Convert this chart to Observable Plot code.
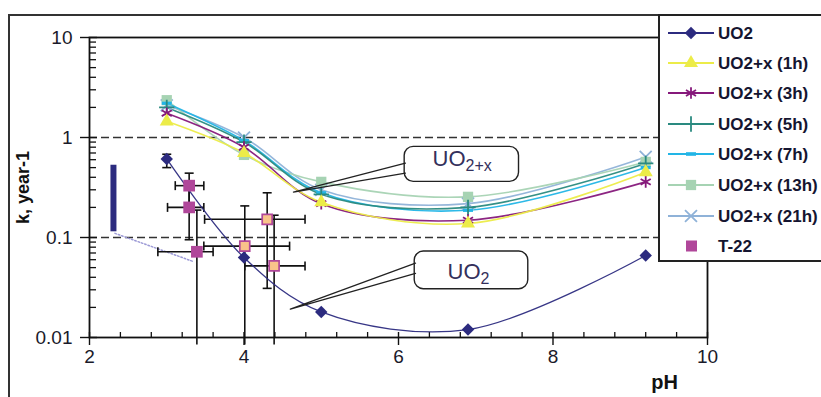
<!DOCTYPE html>
<html><head><meta charset="utf-8">
<script src="https://cdn.jsdelivr.net/npm/d3@7"></script>
<script src="https://cdn.jsdelivr.net/npm/@observablehq/plot@0.6"></script>
<style>
body{margin:0;background:#fff;font-family:"Liberation Sans",Arial,sans-serif;}
#wrap{position:relative;width:821px;height:397px;overflow:hidden;background:#fff;}
#outer{position:absolute;left:8px;top:14px;width:900px;height:500px;border-left:2px solid #333;border-top:2px solid #333;}
#wrap svg.main{position:absolute;left:0;top:0;}
#legend{position:absolute;left:658px;top:14px;width:200px;height:244px;background:#fff;border:2px solid #222;}
</style></head><body>
<div id="wrap"><div id="outer"></div></div>
<script>
// ---------- data ----------
const pH = [3, 4, 5, 6.9, 9.2];
const kUO2   = [0.61, 0.063, 0.018, 0.012, 0.066];
const k1h    = [1.45, 0.70, 0.225, 0.138, 0.45];
const k3h    = [1.75, 0.80, 0.218, 0.149, 0.36];
const k5h    = [2.0, 0.90, 0.27, 0.20, 0.55];
const k7h    = [2.2, 0.93, 0.28, 0.187, 0.50];
const k13h   = [2.36, 0.67, 0.36, 0.255, 0.57];
const k21h   = [2.1, 1.0, 0.30, 0.218, 0.64];
const seriesNames = ["UO2","UO2+x (1h)","UO2+x (3h)","UO2+x (5h)","UO2+x (7h)","UO2+x (13h)","UO2+x (21h)","T-22"];
const seriesColors = ["#2c2b7f","#ecec48","#86197b","#2a8a80","#22b5e6","#a6d3b3","#8fb2d8","#b0479a"];

// UO2 error bar at pH 3
const uo2ErrPH = [3], uo2ErrLo = [0.50], uo2ErrHi = [0.68];

// T-22 data
const tPH   = [3.29, 3.29, 3.39, 4.01, 4.30, 4.39];
const tK    = [0.33, 0.20, 0.072, 0.082, 0.152, 0.052];
const tPHlo = [3.11, 3.01, 2.885, 3.48, 3.49, 4.01];
const tPHhi = [3.48, 3.48, 3.60, 4.59, 4.79, 4.79];
const tKlo  = [0.22, 0.095, 0.0085, 0.0085, 0.031, 0.0085];
const tKhi  = [0.44, 0.33, 0.188, 0.207, 0.28, 0.167];
const tType = ["dark","dark","dark","light","light","light"];

// range bar at left and dotted connection
const barPH = [2.31], barLo = [0.114], barHi = [0.528];
const dotPH = [2.33, 3.33], dotK = [0.11, 0.058];

// reference dashed lines
const refK = [1, 0.1];

// callouts
const boxX1 = [6.08, 6.21], boxX2 = [7.56, 7.68], boxY1 = [0.36, 0.0304], boxY2 = [0.806, 0.0724];
const ptrPH = [6.09, 4.64, 6.09, 6.22, 4.60, 6.22];
const ptrK  = [0.553, 0.284, 0.44, 0.0553, 0.0192, 0.0437];
const ptrId = ["a","a","a","b","b","b"];
const labMainPH = [6.868, 7.062], labMainK = [0.617, 0.0455], labMain = ["UO","UO"];
const labSubPH = [6.868, 7.062], labSubK = [0.519, 0.039], labSub = ["2+x","2"];

// ticks
const yMajor = [0.01, 0.1, 1, 10];
const yMinor = [0.02,0.03,0.04,0.05,0.06,0.07,0.08,0.09,0.2,0.3,0.4,0.5,0.6,0.7,0.8,0.9,2,3,4,5,6,7,8,9];
const xMajor = [2, 4, 6, 8, 10];
const xMinor = [2.4,2.8,3.2,3.6,4.4,4.8,5.2,5.6,6.4,6.8,7.2,7.6,8.4,8.8,9.2,9.6];

// ---------- build tables ----------
const allK = [kUO2,k1h,k3h,k5h,k7h,k13h,k21h];
const lines = [];
allK.forEach((arr, s) => arr.forEach((k, i) => lines.push({s: seriesNames[s], c: seriesColors[s], pH: pH[i], k})));
const T = tPH.map((p, i) => ({pH: p, k: tK[i], lo: tPHlo[i], hi: tPHhi[i], klo: tKlo[i], khi: tKhi[i], type: tType[i]}));
const uErr = uo2ErrPH.map((p, i) => ({pH: p, lo: uo2ErrLo[i], hi: uo2ErrHi[i]}));
const boxes = boxX1.map((x, i) => ({x1: x, x2: boxX2[i], y1: boxY1[i], y2: boxY2[i]}));
const ptr = ptrPH.map((p, i) => ({pH: p, k: ptrK[i], id: ptrId[i]}));
const labs = labMain.map((t, i) => ({t, pH: labMainPH[i], k: labMainK[i], st: labSub[i], spH: labSubPH[i], sk: labSubK[i]}));
const dotted = dotPH.map((p, i) => ({pH: p, k: dotK[i]}));
const bars = barPH.map((p, i) => ({pH: p, lo: barLo[i], hi: barHi[i]}));

const hcap = {draw(ctx){ ctx.moveTo(-4.5,0); ctx.lineTo(4.5,0); }};
const vcap = {draw(ctx){ ctx.moveTo(0,-4.5); ctx.lineTo(0,4.5); }};
const dash = {draw(ctx){ ctx.rect(-5,-1.6,10,3.2); }};

const sym = {
  "UO2": {symbol: "diamond2", fill: true, r: 5.6},
  "UO2+x (1h)": {symbol: "triangle", fill: true, r: 5.2},
  "UO2+x (3h)": {symbol: "asterisk", fill: false, r: 5.5},
  "UO2+x (5h)": {symbol: "plus", fill: false, r: 5},
  "UO2+x (7h)": {symbol: dash, fill: true, r: 4},
  "UO2+x (13h)": {symbol: "square", fill: true, r: 5.8},
  "UO2+x (21h)": {symbol: "times", fill: false, r: 5.5}
};

const FW = 821 - 89 - 114, FH = 397 - 37 - 60;
const tickFont = 19;

const marks = [
  Plot.ruleY(refK, {stroke: "#333", strokeWidth: 1.6, strokeDasharray: "8,4"}),
  Plot.frame({stroke: "#111", strokeWidth: 1.8}),
  // y axis
  Plot.tickY(yMajor, {y: d => d, insetRight: FW - 8, insetLeft: -9, stroke: "#111", strokeWidth: 1.4}),
  Plot.tickY(yMinor, {y: d => d, insetRight: FW - 7, stroke: "#111", strokeWidth: 1.3}),
  Plot.text(yMajor, {y: d => d, text: d => String(d), frameAnchor: "left", dx: -17, textAnchor: "end", fontSize: tickFont, fill: "#1a1a2a"}),
  // x axis
  Plot.tickX(xMajor, {x: d => d, insetTop: FH - 5, insetBottom: -8, stroke: "#111", strokeWidth: 1.4}),
  Plot.tickX(xMinor, {x: d => d, insetTop: FH - 5, stroke: "#111", strokeWidth: 1.3}),
  Plot.text(xMajor, {x: d => d, text: d => String(d), frameAnchor: "bottom", dy: 25, fontSize: tickFont, fill: "#1a1a2a"}),
  // left range bar and dotted link
  Plot.ruleX(bars, {x: "pH", y1: "lo", y2: "hi", stroke: "#2c2b7f", strokeWidth: 6}),
  Plot.line(dotted, {x: "pH", y: "k", stroke: "#9c9ad6", strokeWidth: 1.5, strokeDasharray: "1.5,2"}),
  // T-22 error bars
  Plot.link(T, {x1: "lo", x2: "hi", y1: "k", y2: "k", stroke: "#111", strokeWidth: 1.6}),
  Plot.link(T, {x1: "pH", x2: "pH", y1: "klo", y2: "khi", stroke: "#111", strokeWidth: 1.6}),
  Plot.dot(T, {x: "lo", y: "k", symbol: vcap, stroke: "#111", strokeWidth: 1.6}),
  Plot.dot(T, {x: "hi", y: "k", symbol: vcap, stroke: "#111", strokeWidth: 1.6}),
  Plot.dot(T.filter(d => d.klo > 0.01), {x: "pH", y: "klo", symbol: hcap, stroke: "#111", strokeWidth: 1.6}),
  Plot.dot(T, {x: "pH", y: "khi", symbol: hcap, stroke: "#111", strokeWidth: 1.6}),
  // UO2 error bar
  Plot.link(uErr, {x1: "pH", x2: "pH", y1: "lo", y2: "hi", stroke: "#111", strokeWidth: 1.6}),
  Plot.dot(uErr, {x: "pH", y: "lo", symbol: hcap, stroke: "#111", strokeWidth: 1.6}),
  Plot.dot(uErr, {x: "pH", y: "hi", symbol: hcap, stroke: "#111", strokeWidth: 1.6}),
  // series lines (back to front)
  ...seriesNames.slice(0, 7).slice().reverse().map(name =>
    Plot.line(lines.filter(d => d.s === name), {x: "pH", y: "k", stroke: seriesColors[seriesNames.indexOf(name)], strokeWidth: name === "UO2" ? 1.3 : 1.6, curve: "catmull-rom", strokeOpacity: 0.95})
  ),
  // series markers
  ...seriesNames.slice(0, 7).slice().reverse().map(name => {
    const m = sym[name];
    const c = seriesColors[seriesNames.indexOf(name)];
    return Plot.dot(lines.filter(d => d.s === name), m.fill
      ? {x: "pH", y: "k", symbol: m.symbol, r: m.r, fill: c, stroke: "none"}
      : {x: "pH", y: "k", symbol: m.symbol, r: m.r, stroke: c, strokeWidth: 1.8});
  }),
  // T-22 markers
  Plot.dot(T.filter(d => d.type === "dark"), {x: "pH", y: "k", symbol: "square", r: 6.6, fill: "#b0479a", stroke: "none"}),
  Plot.dot(T.filter(d => d.type === "light"), {x: "pH", y: "k", symbol: "square", r: 5.6, fill: "#f9c38a", stroke: "#b0479a", strokeWidth: 1.7}),
  // callouts
  Plot.rect(boxes, {x1: "x1", x2: "x2", y1: "y1", y2: "y2", rx: 9, fill: "white", stroke: "#222", strokeWidth: 1.4}),
  Plot.line(ptr, {x: "pH", y: "k", z: "id", stroke: "#222", strokeWidth: 1.3}),
  Plot.text(labs, {x: "pH", y: "k", text: "t", textAnchor: "end", fontSize: 22, fill: "#34305c"}),
  Plot.text(labs, {x: "spH", y: "sk", text: "st", textAnchor: "start", fontSize: 16, fill: "#34305c"}),
  // axis titles
  Plot.text(["k, year-1"], {frameAnchor: "left", dx: -66, rotate: -90, textAnchor: "middle", fontSize: 18, fontWeight: "bold", fill: "#111"}),
  Plot.text(["pH"], {frameAnchor: "bottom-right", dx: -43, dy: 51, textAnchor: "middle", fontSize: 20, fontWeight: "bold", fill: "#111"})
];

const chart = Plot.plot({
  width: 821, height: 397,
  marginLeft: 89, marginRight: 114, marginTop: 37, marginBottom: 60,
  x: {domain: [2, 10], axis: null},
  y: {type: "log", domain: [0.01, 10], axis: null},
  style: {background: "transparent", fontFamily: "'Liberation Sans', Arial, sans-serif", color: "#111", overflow: "visible"},
  marks
});
chart.classList.add("main");
const wrap = document.getElementById("wrap");
wrap.appendChild(chart);

// ---------- legend ----------
const leg = document.createElement("div");
leg.id = "legend";
wrap.appendChild(leg);
const ls = d3.select(leg).append("svg").attr("width", 200).attr("height", 244);
const rowY = [17, 47, 77, 108, 138, 169, 200, 230];
seriesNames.forEach((name, i) => {
  const g = ls.append("g").attr("transform", `translate(0,${rowY[i]})`);
  const c = seriesColors[i];
  if (name !== "T-22") {
    g.append("line").attr("x1", 8).attr("x2", 54).attr("stroke", c).attr("stroke-width", 2);
    const m = sym[name];
    let typ = null;
    if (m.symbol === "diamond2") typ = d3.symbolDiamond2;
    else if (m.symbol === "triangle") typ = d3.symbolTriangle;
    else if (m.symbol === "asterisk") typ = d3.symbolAsterisk;
    else if (m.symbol === "plus") typ = d3.symbolPlus;
    else if (m.symbol === "square") typ = d3.symbolSquare;
    else if (m.symbol === "times") typ = d3.symbolTimes;
    const tx = "translate(31,0)";
    if (typ) {
      const p = g.append("path").attr("transform", tx).attr("d", d3.symbol(typ, Math.PI * m.r * m.r)());
      if (m.fill) p.attr("fill", c); else p.attr("fill", "none").attr("stroke", c).attr("stroke-width", 1.8);
    } else {
      g.append("rect").attr("x", 26).attr("y", -1.8).attr("width", 10).attr("height", 3.6).attr("fill", c);
    }
  } else {
    g.append("rect").attr("x", 26).attr("y", -5.5).attr("width", 11).attr("height", 11).attr("fill", c);
  }
  g.append("text").attr("x", 58).attr("y", 0).attr("dy", "0.35em")
    .attr("font-family", "'Liberation Sans', Arial, sans-serif").attr("font-weight", "bold")
    .attr("font-size", 17).attr("fill", "#151530").text(name);
});
</script>
</body></html>
